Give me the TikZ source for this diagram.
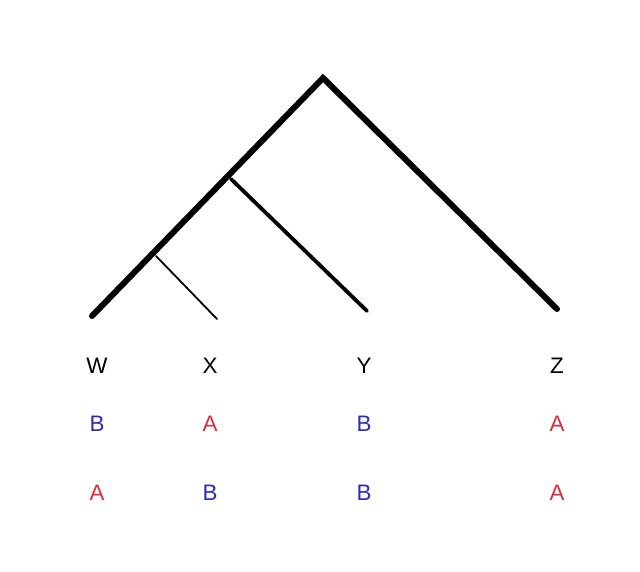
\documentclass[tikz,border=0pt]{standalone}
\usepackage{fontspec}
\setmainfont{Liberation Sans}
\usetikzlibrary{positioning}
\definecolor{charA}{RGB}{215,45,60}
\definecolor{charB}{RGB}{45,45,175}

\begin{document}
\begin{tikzpicture}[x=1bp, y=-1bp,
      branch/.style={line cap=round, line width=#1},
      taxon/.style={font=\fontsize{22.5}{26}\selectfont, inner sep=0pt}]

    \useasboundingbox (0,0) rectangle (640,572);

    % tree
    \coordinate (root) at (323,78);
    \coordinate (nWXY) at (231,179);
    \coordinate (nWX) at (156,256);
    \coordinate (tW) at (92,316);
    \coordinate (tX) at (217,319);
    \coordinate (tY) at (367,311);
    \coordinate (tZ) at (557,309);

    \draw[branch=6bp] (tW) -- (root) -- (tZ);
    \draw[branch=3.8bp] (nWXY) -- (tY);
    \draw[branch=1.8bp] (nWX) -- (tX);

    % taxa and characters
    \foreach \n/\x in {W/97, X/210, Y/364, Z/557}{
      \node[taxon] (\n) at (\x,366) {\n};
    }
    \foreach \n/\a/\b in {W/B/A, X/A/B, Y/B/B, Z/A/A}{
      \node[taxon, text=char\a, below=58bp of \n.center, anchor=center] (\n1) {\a};
      \node[taxon, text=char\b, below=69bp of \n1.center, anchor=center] (\n2) {\b};
    }
  \end{tikzpicture}
\end{document}
